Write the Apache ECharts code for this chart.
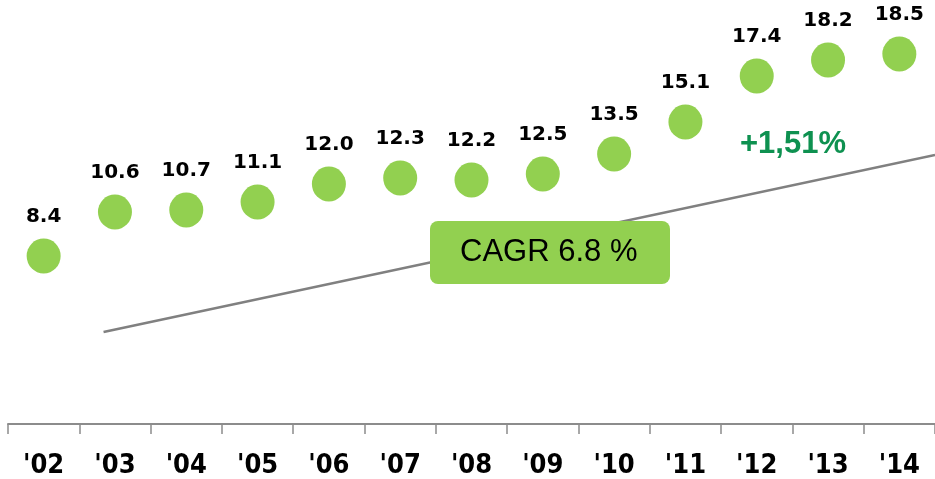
<!DOCTYPE html>
<html>
<head>
<meta charset="utf-8">
<script src="https://cdn.jsdelivr.net/npm/echarts@6/dist/echarts.min.js"></script>
<style>
  html, body { margin: 0; padding: 0; background: #fff; }
  #chart { width: 935px; height: 479px; }
</style>
</head>
<body>
<div id="chart"></div>
<script>
// years on the x axis
var years = ["'02", "'03", "'04", "'05", "'06", "'07", "'08", "'09", "'10", "'11", "'12", "'13", "'14"];
// values of the green dots
var values = [8.4, 10.6, 10.7, 11.1, 12.0, 12.3, 12.2, 12.5, 13.5, 15.1, 17.4, 18.2, 18.5];
// trend line, [category position, value]
var trendStart = [0.84, 4.6];
var trendEnd = [12.5, 13.45];
var cagrText = 'CAGR 6.8 %';
var growthText = '+1,51%';

var myChart = echarts.init(document.getElementById('chart'));

var option = {
    backgroundColor: '#ffffff',
    animation: false,
    grid: { left: 8, right: 0, top: 4, bottom: 55 },
    xAxis: [{
        type: 'category',
        data: years,
        boundaryGap: true,
        axisLine: { lineStyle: { color: '#8c8c8c', width: 2 } },
        axisTick: { show: true, interval: 0, length: 10, lineStyle: { color: '#8c8c8c', width: 1.5 } },
        axisLabel: {
            interval: 0,
            margin: 28,
            color: '#000',
            fontWeight: 'bold',
            fontSize: 27,
            fontFamily: "'Liberation Sans Narrow', 'DejaVu Sans Condensed', sans-serif"
        }
    }, {
        type: 'value',
        min: -0.5,
        max: 12.5,
        show: false
    }],
    yAxis: {
        type: 'value',
        min: 0,
        max: 21,
        show: false,
        splitLine: { show: false }
    },
    series: [{
        // trend line
        type: 'line',
        xAxisIndex: 1,
        data: [trendStart, trendEnd],
        symbol: 'none',
        lineStyle: { color: '#808080', width: 2.5 },
        z: 1
    }, {
        type: 'scatter',
        data: values,
        symbol: 'circle',
        symbolSize: [34, 35],
        itemStyle: { color: '#92d050', opacity: 1 },
        label: {
            show: true,
            position: 'top',
            distance: 12,
            color: '#000',
            fontWeight: 'bold',
            fontSize: 20,
            fontFamily: "'DejaVu Sans', sans-serif",
            formatter: function (p) { return p.value.toFixed(1); }
        },
        z: 3
    }],
    graphic: [{
        type: 'rect',
        left: 430,
        top: 221,
        z: 100,
        shape: { width: 240, height: 63, r: 8 },
        style: { fill: '#92d050' }
    }, {
        type: 'text',
        left: 460,
        top: 237,
        z: 101,
        style: {
            text: cagrText,
            fill: '#000',
            font: "31px 'Liberation Sans', Arial, sans-serif"
        }
    }, {
        type: 'text',
        left: 740,
        top: 129,
        z: 100,
        style: {
            text: growthText,
            fill: '#0e9150',
            font: "bold 31px 'Liberation Sans', Arial, sans-serif"
        }
    }]
};

myChart.setOption(option);
</script>
</body>
</html>
